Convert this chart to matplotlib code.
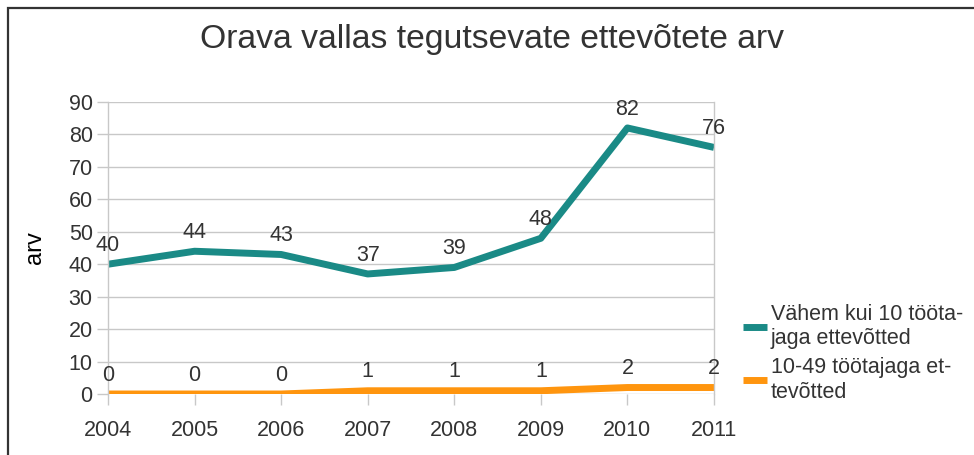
import matplotlib

matplotlib.use("Agg")
import matplotlib.pyplot as plt
from matplotlib.patches import Rectangle

INK = "#333333"
GRID = "#c8c8c8"

years = ["2004", "2005", "2006", "2007", "2008", "2009", "2010", "2011"]
small = [40, 44, 43, 37, 39, 48, 82, 76]
medium = [0, 0, 0, 1, 1, 1, 2, 2]
labels = ["Vähem kui 10 tööta-\njaga ettevõtted", "10-49 töötajaga et-\ntevõtted"]
colors = ["#1a8a86", "#ff950e"]

plt.rcParams.update({
    "font.family": ["Liberation Sans", "DejaVu Sans"], "font.size": 15.5,
    "text.color": INK, "xtick.color": INK, "ytick.color": INK,
})

fig = plt.figure(figsize=(9.74, 4.55), dpi=100)
fig.patches.append(Rectangle((8 / 974, -0.05), 1.1, 1 - 8 / 455 + 0.05, transform=fig.transFigure,
                             fill=False, edgecolor=INK, linewidth=1.6))
ax = fig.add_axes([108 / 974, 1 - 394 / 455, 606 / 974, 292 / 455])

x = list(range(len(years)))
for vals, lab, col in [(small, labels[0], colors[0]), (medium, labels[1], colors[1])]:
    ax.plot(x, vals, color=col, linewidth=5, solid_capstyle="butt", solid_joinstyle="round", label=lab)
    for xi, v in zip(x, vals):
        ax.annotate(str(v), (xi, v), xytext=(0, 6), textcoords="offset points",
                    ha="center", va="bottom", fontsize=15.5, color=INK)

ax.set_xlim(0, len(years) - 1)
ax.set_ylim(0, 90)
ax.set_yticks(range(0, 91, 10))
ax.set_xticks(x)
ax.set_xticklabels(years)
ax.grid(axis="y", color=GRID, linewidth=1)
ax.set_axisbelow(True)
for s in ("top", "bottom"):
    ax.spines[s].set_visible(False)
for s in ("left", "right"):
    ax.spines[s].set_color(GRID)
    ax.spines[s].set_linewidth(1)
ax.tick_params(axis="both", length=8, width=1, color=GRID, pad=3)
ax.tick_params(axis="x", pad=11)
ax.set_ylabel("arv", fontsize=17, labelpad=16)

fig.suptitle("Orava vallas tegutsevate ettevõtete arv", x=492 / 974, y=1 - 24 / 455,
             va="top", fontsize=24.3, color=INK)

ax.legend(loc="upper left", bbox_to_anchor=(743 / 974, 1 - 304 / 455), bbox_transform=fig.transFigure,
          frameon=False, fontsize=15.5, handlelength=1.1, handletextpad=0.2, labelspacing=0.38,
          borderaxespad=0, borderpad=0)

fig.savefig("out.png", dpi=100)
